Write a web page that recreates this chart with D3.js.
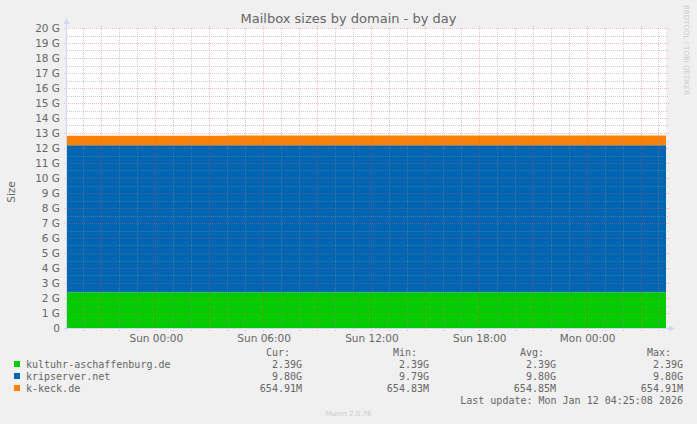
<!DOCTYPE html>
<html>
<head>
<meta charset="utf-8">
<script src="https://cdn.jsdelivr.net/npm/d3@7"></script>
<style>
  body { margin: 0; background: #f0f0f0; }
  svg { display: block; }
  text { font-family: "DejaVu Sans", sans-serif; }
  .mono { font-family: "DejaVu Sans Mono", monospace; }
</style>
</head>
<body>
<div id="chart"></div>
<script>

// Munin "by day" graph: stacked mailbox sizes (in GiB)

const title = "Mailbox sizes by domain - by day";
const yLabel = "Size";

const domains = ["kultuhr-aschaffenburg.de", "kripserver.net", "k-keck.de"];
const colours = ["#00cc00", "#0066b3", "#ff8000"];

// sample times (UTC) across the graph window
const times = [
    "2026-01-10T19:05:08", "2026-01-10T22:00:00", "2026-01-11T01:00:00",
    "2026-01-11T04:00:00", "2026-01-11T07:00:00", "2026-01-11T10:00:00",
    "2026-01-11T13:00:00", "2026-01-11T16:00:00", "2026-01-11T19:00:00",
    "2026-01-11T22:00:00", "2026-01-12T01:00:00", "2026-01-12T04:25:08"
];

// sizes in G
const kultuhr    = [2.39, 2.39, 2.39, 2.39, 2.39, 2.39, 2.39, 2.39, 2.39, 2.39, 2.39, 2.39];
const kripserver = [9.79, 9.79, 9.79, 9.80, 9.80, 9.80, 9.80, 9.80, 9.80, 9.80, 9.80, 9.80];
const kkeck      = [0.6395, 0.6395, 0.6395, 0.6395, 0.6395, 0.6395, 0.6395, 0.6395, 0.6396, 0.6396, 0.6396, 0.6396];

// legend columns
const curVals = ["2.39G", "9.80G", "654.91M"];
const minVals = ["2.39G", "9.79G", "654.83M"];
const avgVals = ["2.39G", "9.80G", "654.85M"];
const maxVals = ["2.39G", "9.80G", "654.91M"];

const yMax = 20;
const lastUpdate = "Last update: Mon Jan 12 04:25:08 2026";
const version = "Munin 2.0.76";

const width = 697, height = 424;
const margin = { left: 67, right: 31, top: 28, bottom: 96 };
const textCol = "#666";

const svg = d3.select("#chart").append("svg")
    .attr("width", width)
    .attr("height", height);

svg.append("rect")
    .attr("width", width)
    .attr("height", height)
    .attr("fill", "#f0f0f0");

const parse = d3.utcParse("%Y-%m-%dT%H:%M:%S");
const dates = times.map(parse);

const x = d3.scaleUtc()
    .domain([dates[0], dates[dates.length - 1]])
    .range([margin.left, width - margin.right]);

const y = d3.scaleLinear()
    .domain([0, yMax])
    .range([height - margin.bottom, margin.top]);

// plot background
svg.append("rect")
    .attr("x", x.range()[0])
    .attr("y", y(yMax))
    .attr("width", x.range()[1] - x.range()[0])
    .attr("height", y(0) - y(yMax))
    .attr("fill", "#ffffff");

// stacked areas
const rows = dates.map((d, i) => ({ t: d, a: kultuhr[i], b: kripserver[i], c: kkeck[i] }));
const stack = d3.stack().keys(["a", "b", "c"]);
const layers = stack(rows);

const area = d3.area()
    .curve(d3.curveStepAfter)
    .x((d) => x(d.data.t))
    .y0((d) => y(d[0]))
    .y1((d) => y(d[1]));

svg.selectAll(".layer")
    .data(layers)
    .enter().append("path")
    .attr("class", "layer")
    .attr("d", area)
    .attr("fill", (d, i) => colours[i]);

// grid (dotted, 1px on / 1px off)
const grid = svg.append("g");
const x0 = x.range()[0], x1 = x.range()[1] + 3;
const minorCol = "rgba(143,143,143,0.45)";
const majorCol = "rgba(230,80,80,0.38)";

function hLines(vals, col, start) {
    grid.selectAll(null)
        .data(vals)
        .enter().append("line")
        .attr("x1", start).attr("x2", x1)
        .attr("y1", (d) => Math.round(y(d)) + 0.5).attr("y2", (d) => Math.round(y(d)) + 0.5)
        .attr("stroke", col)
        .attr("stroke-dasharray", "1,1");
}

function vLines(vals, col, top) {
    grid.selectAll(null)
        .data(vals)
        .enter().append("line")
        .attr("x1", (d) => Math.round(x(d)) + 0.5).attr("x2", (d) => Math.round(x(d)) + 0.5)
        .attr("y1", y(0) + 3).attr("y2", top)
        .attr("stroke", col)
        .attr("stroke-dasharray", "1,1");
}

hLines(d3.range(0.5, yMax, 1), minorCol, x0);
vLines(x.ticks(d3.utcHour.every(1)).filter((d) => d.getUTCHours() % 3 !== 0), minorCol, y(yMax));
hLines(d3.range(1, yMax + 1, 1), majorCol, x0 - 3);
vLines(x.ticks(d3.utcHour.every(3)), majorCol, y(yMax) - 2);

// axes lines with arrows
const axisCol = "#cfd6f8";
svg.append("line")
    .attr("x1", x0 - 0.5).attr("x2", x0 - 0.5)
    .attr("y1", y(0) + 3).attr("y2", y(yMax) - 4)
    .attr("stroke", axisCol);
svg.append("line")
    .attr("x1", x0 - 3).attr("x2", x.range()[1] + 4)
    .attr("y1", y(0) + 0.5).attr("y2", y(0) + 0.5)
    .attr("stroke", axisCol);
svg.append("path")
    .attr("d", "M" + (x0 - 3.5) + "," + (y(yMax) - 4) + "l3,-6l3,6z")
    .attr("fill", axisCol);
svg.append("path")
    .attr("d", "M" + (x.range()[1] + 3) + "," + (y(0) - 2.5) + "l6,3l-6,3z")
    .attr("fill", axisCol);

// y tick labels
svg.selectAll(".ylab")
    .data(d3.range(0, yMax + 1, 1))
    .enter().append("text")
    .attr("x", x0 - 7)
    .attr("y", (d) => y(d))
    .attr("dy", "0.35em")
    .attr("text-anchor", "end")
    .attr("font-size", "10.5px")
    .attr("fill", textCol)
    .text((d) => d === 0 ? "0" : d + " G");

// x tick labels
const labTicks = x.ticks(d3.utcHour.every(6));
const fmt = d3.utcFormat("%a %H:%M");
svg.selectAll(".xlab")
    .data(labTicks)
    .enter().append("text")
    .attr("x", (d) => x(d) + 1)
    .attr("y", y(0) + 14)
    .attr("text-anchor", "middle")
    .attr("font-size", "10.5px")
    .attr("fill", textCol)
    .text(fmt);

// title and y label
svg.append("text")
    .attr("x", width / 2)
    .attr("y", 23)
    .attr("text-anchor", "middle")
    .attr("font-size", "13px")
    .attr("fill", textCol)
    .text(title);

svg.append("text")
    .attr("transform", "translate(15," + (y(yMax / 2) + 14) + ") rotate(-90)")
    .attr("text-anchor", "middle")
    .attr("font-size", "10.5px")
    .attr("fill", textCol)
    .text(yLabel);

svg.append("text")
    .attr("transform", "translate(684,5) rotate(90)")
    .attr("font-size", "7px")
    .attr("fill", "#cccccc")
    .text("RRDTOOL / TOBI OETIKER");

// legend
const legend = svg.append("g").attr("class", "mono");
const legY = 368;
const colX = [302, 429, 556, 683];
const heads = ["Cur:", "Min:", "Avg:", "Max:"];

legend.selectAll(".head")
    .data(heads)
    .enter().append("text")
    .attr("class", "mono")
    .attr("x", (d, i) => colX[i] - 12)
    .attr("y", legY - 12)
    .attr("text-anchor", "end")
    .attr("font-size", "10px")
    .attr("fill", textCol)
    .text((d) => d);

domains.forEach(function(name, i) {
    const ly = legY + i * 12;
    legend.append("rect")
        .attr("x", 14).attr("y", ly - 7)
        .attr("width", 6).attr("height", 6)
        .attr("fill", colours[i]);
    legend.append("text")
        .attr("class", "mono")
        .attr("x", 26).attr("y", ly)
        .attr("font-size", "10px")
        .attr("fill", textCol)
        .text(name);
    [curVals, minVals, avgVals, maxVals].forEach(function(col, j) {
        legend.append("text")
            .attr("class", "mono")
            .attr("x", colX[j]).attr("y", ly)
            .attr("text-anchor", "end")
            .attr("font-size", "10px")
            .attr("fill", textCol)
            .text(col[i]);
    });
});

legend.append("text")
    .attr("class", "mono")
    .attr("x", 683).attr("y", legY + 36)
    .attr("text-anchor", "end")
    .attr("font-size", "10px")
    .attr("fill", textCol)
    .text(lastUpdate);

svg.append("text")
    .attr("x", width / 2)
    .attr("y", 416)
    .attr("text-anchor", "middle")
    .attr("font-size", "7px")
    .attr("fill", "#cccccc")
    .text(version);

</script>
</body>
</html>
